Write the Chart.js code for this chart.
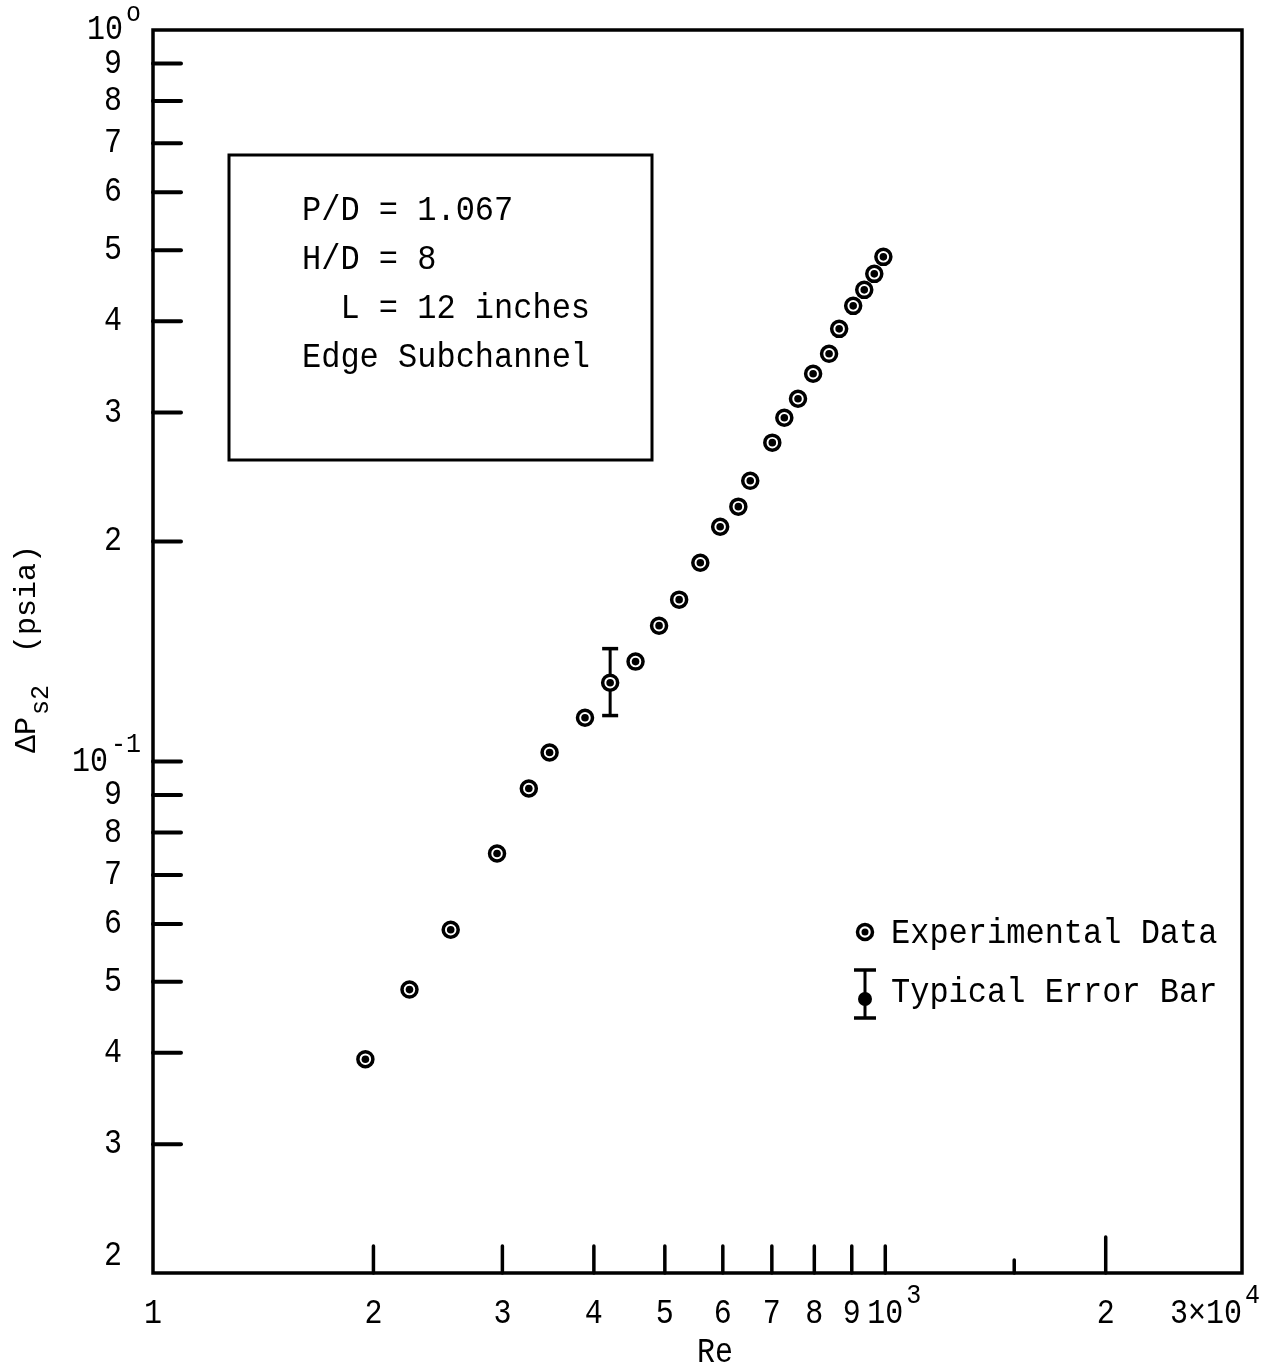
<!DOCTYPE html>
<html>
<head>
<meta charset="utf-8">
<script src="https://cdn.jsdelivr.net/npm/chart.js@4.4.1/dist/chart.umd.min.js"></script>
<style>
  body { margin: 0; background: #fff; }
  canvas { display: block; }
</style>
</head>
<body>
<canvas id="grafico" width="1270" height="1367"></canvas>
<script>
// Dados (Re x ΔP_s2)
const reData = [195, 224, 255, 295, 326, 348, 389, 421, 456, 491, 523, 559, 595,
                630, 654, 701, 728, 760, 797, 838, 865, 904, 936, 966, 994];
const dpData = [0.0392, 0.0488, 0.0589, 0.0749, 0.0919, 0.1029, 0.1148, 0.1282, 0.1370,
                0.1534, 0.1665, 0.1870, 0.2094, 0.2231, 0.2420, 0.2729, 0.2951, 0.3133,
                0.3389, 0.3609, 0.3904, 0.4197, 0.4414, 0.4642, 0.4897];

// Barra de erro típica
const errRe = [421];
const errLow = [0.1156];
const errHigh = [0.1427];

// Marcas e rótulos dos eixos
const xTickValues = [200, 300, 400, 500, 600, 700, 800, 900, 1000];
const xLongTicks = [2000];
const xShortTicks = [1500];
const xLabelValues = [100, 200, 300, 400, 500, 600, 700, 800, 900, 1000, 2000, 3000];
const xLabelMain = ['1', '2', '3', '4', '5', '6', '7', '8', '9', '10', '2', '3×10'];
const xLabelSup  = ['', '', '', '', '', '', '', '', '', '3', '', '4'];

const yTickValues = [0.9, 0.8, 0.7, 0.6, 0.5, 0.4, 0.3, 0.2,
                     0.1, 0.09, 0.08, 0.07, 0.06, 0.05, 0.04, 0.03];
const yLabelValues = [1, 0.9, 0.8, 0.7, 0.6, 0.5, 0.4, 0.3, 0.2,
                      0.1, 0.09, 0.08, 0.07, 0.06, 0.05, 0.04, 0.03, 0.02];
const yLabelMain = ['10', '9', '8', '7', '6', '5', '4', '3', '2',
                    '10', '9', '8', '7', '6', '5', '4', '3', '2'];
const yLabelSup  = ['o', '', '', '', '', '', '', '', '',
                    '-1', '', '', '', '', '', '', '', ''];

const boxLines = ['P/D = 1.067', 'H/D = 8', '  L = 12 inches', 'Edge Subchannel'];

const FONTE = '"Liberation Mono", "DejaVu Sans Mono", monospace';

const linha = (ctx, x1, y1, x2, y2) => {
    ctx.beginPath();
    ctx.moveTo(x1, y1);
    ctx.lineTo(x2, y2);
    ctx.stroke();
};

// texto de máquina de escrever: um pouco mais alto que a fonte normal
const texto = (ctx, s, x, y, tam, esticar = 1.14) => {
    ctx.save();
    ctx.translate(x, y);
    ctx.scale(1, esticar);
    ctx.font = tam + 'px ' + FONTE;
    ctx.fillText(s, 0, 0);
    ctx.restore();
};

const largura = (ctx, s, tam) => {
    ctx.font = tam + 'px ' + FONTE;
    return ctx.measureText(s).width;
};

// Barra de erro desenhada antes dos pontos (os anéis ficam por cima)
const barraErro = {
    id: 'barraErro',
    beforeDatasetsDraw(chart) {
        const { ctx, scales: { x, y } } = chart;
        ctx.save();
        ctx.strokeStyle = '#000';
        errRe.forEach((re, i) => {
            const px = x.getPixelForValue(re);
            const pTop = y.getPixelForValue(errHigh[i]);
            const pBot = y.getPixelForValue(errLow[i]);
            ctx.lineWidth = 3;
            linha(ctx, px, pTop, px, pBot);
            ctx.lineWidth = 3.5;
            linha(ctx, px - 8, pTop, px + 8, pTop);
            linha(ctx, px - 8, pBot, px + 8, pBot);
        });
        ctx.restore();
    }
};

// Moldura, marcas, rótulos, caixa de texto e legenda
const decoracao = {
    id: 'decoracao',
    afterDraw(chart) {
        const { ctx, chartArea: a, scales: { x, y } } = chart;
        ctx.save();
        ctx.strokeStyle = '#000';
        ctx.fillStyle = '#000';
        ctx.lineCap = 'round';

        // moldura
        ctx.lineWidth = 3.5;
        ctx.strokeRect(a.left, a.top, a.right - a.left, a.bottom - a.top);

        // marcas do eixo y (para dentro)
        ctx.lineWidth = 4;
        yTickValues.forEach(v => {
            const py = y.getPixelForValue(v);
            linha(ctx, a.left, py, a.left + 28, py);
        });
        // marcas do eixo x
        ctx.lineWidth = 3.5;
        xTickValues.forEach(v => {
            const px = x.getPixelForValue(v);
            linha(ctx, px, a.bottom, px, a.bottom - 27);
        });
        xLongTicks.forEach(v => {
            const px = x.getPixelForValue(v);
            linha(ctx, px, a.bottom, px, a.bottom - 36);
        });
        xShortTicks.forEach(v => {
            const px = x.getPixelForValue(v);
            linha(ctx, px, a.bottom, px, a.bottom - 13);
        });

        // rótulos do eixo y
        ctx.textBaseline = 'middle';
        ctx.textAlign = 'left';
        yLabelValues.forEach((v, i) => {
            let py = y.getPixelForValue(v);
            py = Math.min(py, a.bottom - 17);
            const main = yLabelMain[i];
            const sup = yLabelSup[i];
            const wMain = largura(ctx, main, 30);
            if (sup) {
                const wSup = largura(ctx, sup, 25);
                const right = a.left - 12;
                texto(ctx, sup, right - wSup, py - 17, 25);
                texto(ctx, main, right - wSup - wMain - 3, py, 30);
            } else {
                texto(ctx, main, a.left - 31 - wMain, py, 30);
            }
        });

        // rótulos do eixo x
        const yLab = a.bottom + 41;
        xLabelValues.forEach((v, i) => {
            const px = x.getPixelForValue(v);
            const main = xLabelMain[i];
            const sup = xLabelSup[i];
            const wMain = largura(ctx, main, 30);
            let left = px - wMain / 2;
            if (left + wMain > a.right) left = a.right - wMain;
            texto(ctx, main, left, yLab, 30);
            if (sup) texto(ctx, sup, left + wMain + 3, yLab - 19, 25);
        });

        // título do eixo x
        texto(ctx, 'Re', 715 - largura(ctx, 'Re', 30) / 2, a.bottom + 80, 30);

        // título do eixo y (girado)
        ctx.save();
        ctx.translate(35, 753);
        ctx.rotate(-Math.PI / 2);
        ctx.textBaseline = 'alphabetic';
        ctx.font = '30px ' + FONTE;
        ctx.fillText('ΔP', 0, 0);
        let cx = ctx.measureText('ΔP').width;
        ctx.font = '25px ' + FONTE;
        ctx.fillText('s2', cx + 2, 13);
        cx += ctx.measureText('s2').width + 2;
        ctx.font = '30px ' + FONTE;
        ctx.fillText('  (psia)', cx - 4, 0);
        ctx.restore();

        // caixa com parâmetros
        ctx.lineWidth = 3;
        ctx.lineCap = 'butt';
        ctx.strokeRect(229, 155, 423, 305);
        ctx.textBaseline = 'alphabetic';
        boxLines.forEach((t, i) => texto(ctx, t, 302, 220 + i * 49, 32, 1.1));

        // legenda
        ctx.lineWidth = 3.5;
        ctx.beginPath();
        ctx.arc(865, 932, 7.5, 0, Math.PI * 2);
        ctx.stroke();
        ctx.beginPath();
        ctx.arc(865, 932, 3.5, 0, Math.PI * 2);
        ctx.fill();
        texto(ctx, 'Experimental Data', 891, 943, 32, 1.1);

        ctx.lineWidth = 3;
        linha(ctx, 865, 970, 865, 1018);
        ctx.lineWidth = 3.5;
        linha(ctx, 854, 970, 876, 970);
        linha(ctx, 854, 1018, 876, 1018);
        ctx.beginPath();
        ctx.arc(865, 999, 7, 0, Math.PI * 2);
        ctx.fill();
        texto(ctx, 'Typical Error Bar', 891, 1002, 32, 1.1);

        ctx.restore();
    }
};

const pontos = reData.map((re, i) => ({ x: re, y: dpData[i] }));

new Chart(document.getElementById('grafico'), {
    type: 'scatter',
    data: {
        datasets: [
            {
                label: 'Experimental Data',
                data: pontos,
                order: 2,
                pointRadius: 7.5,
                pointBorderWidth: 3.5,
                pointBorderColor: '#000',
                pointBackgroundColor: '#fff',
                pointHoverRadius: 7.5
            },
            {
                label: 'centro',
                data: pontos,
                order: 1,
                pointRadius: 3.8,
                pointBorderWidth: 0,
                pointBackgroundColor: '#000',
                pointHoverRadius: 3.8
            }
        ]
    },
    options: {
        responsive: false,
        devicePixelRatio: 1,
        animation: false,
        layout: { padding: { left: 153, right: 28, top: 30, bottom: 94 } },
        plugins: {
            legend: { display: false },
            tooltip: { enabled: false }
        },
        scales: {
            x: { type: 'logarithmic', min: 100, max: 3070, display: false },
            y: { type: 'logarithmic', min: 0.02, max: 1, display: false }
        }
    },
    plugins: [barraErro, decoracao]
});
</script>
</body>
</html>
